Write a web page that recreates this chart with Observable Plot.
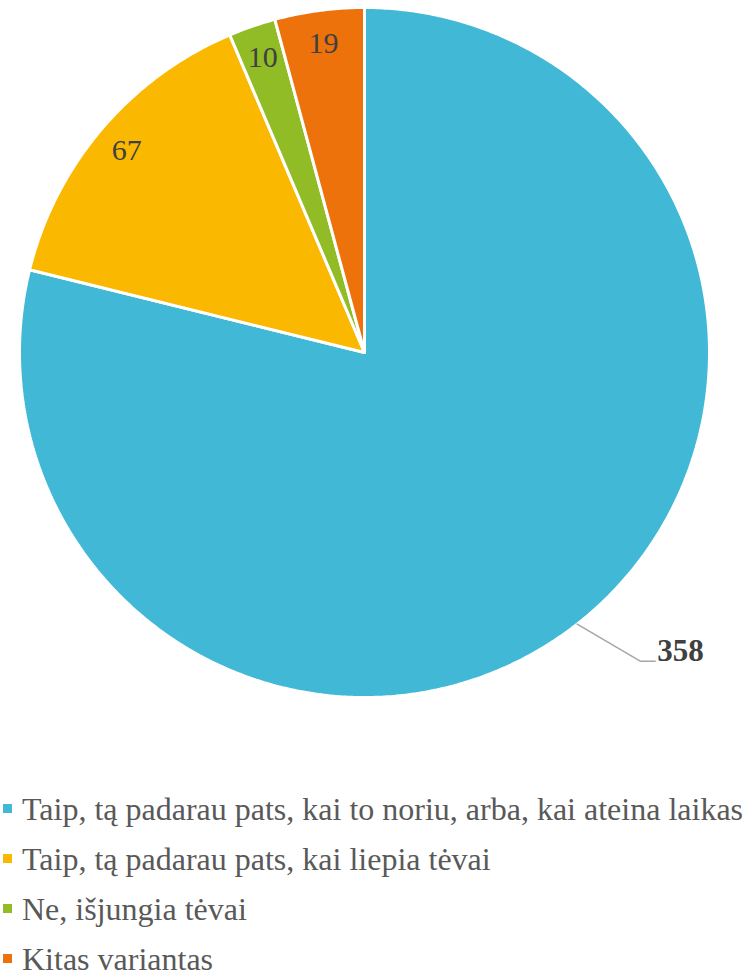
<!DOCTYPE html>
<html>
<head>
<meta charset="utf-8">
<script src="https://cdn.jsdelivr.net/npm/d3@7"></script>
<script src="https://cdn.jsdelivr.net/npm/@observablehq/plot@0.6"></script>
<style>
  html, body { margin: 0; padding: 0; background: #fff; overflow: hidden; }
  #chart svg { display: block; }
  .legend { font-family: "Liberation Serif", "Times New Roman", serif; font-size: 32px; color: #595959; }
  .row { position: relative; height: 50px; line-height: 50px; white-space: nowrap; }
  .sw { position: absolute; left: 3px; top: 20px; width: 9px; height: 9px; }
  .lbl { position: absolute; left: 22px; top: 0; }
</style>
</head>
<body>
<div id="chart"></div>
<div class="legend" id="legend"></div>
<script>
const categories = [
  "Taip, tą padarau pats, kai to noriu, arba, kai ateina laikas",
  "Taip, tą padarau pats, kai liepia tėvai",
  "Ne, išjungia tėvai",
  "Kitas variantas"
];
const values = [358, 67, 10, 19];
const colors = ["#41B8D5", "#FBB800", "#92BC26", "#EE720B"];

const arcs = d3.pie().sort(null).value(d => d)(values);
const R = 1;
const slices = [];
arcs.forEach((a, i) => {
  slices.push({x: 0, y: 0, k: i});
  const n = Math.max(2, Math.ceil((a.endAngle - a.startAngle) / (Math.PI / 360)));
  for (let j = 0; j <= n; j++) {
    const t = a.startAngle + (a.endAngle - a.startAngle) * j / n;
    slices.push({x: Math.sin(t) * R, y: Math.cos(t) * R, k: i});
  }
  slices.push({x: 0, y: 0, k: i});
});

const labels = arcs.map((a, i) => {
  const m = (a.startAngle + a.endAngle) / 2;
  return {x: Math.sin(m) * 0.905, y: Math.cos(m) * 0.905, v: values[i], i};
});
// first (largest) slice labelled outside with a leader line
const m0 = (arcs[0].startAngle + arcs[0].endAngle) / 2;
const px = 1 / 345;
const edge = {x: Math.sin(m0) * R, y: Math.cos(m0) * R};
const elbow = {x: edge.x + 63 * px, y: edge.y - 37 * px};
const end = {x: elbow.x + 15 * px, y: elbow.y};
const leader = [edge, elbow, end];

const chart = Plot.plot({
  width: 746,
  height: 784,
  x: {domain: [-1, 1], range: [19, 709], axis: null},
  y: {domain: [-1, 1], range: [697, 7], axis: null},
  style: {fontFamily: '"Liberation Serif", "Times New Roman", serif', background: "#fff"},
  marks: [
    Plot.line(slices, {x: "x", y: "y", z: "k", fill: d => colors[d.k], stroke: "#fff", strokeWidth: 3, strokeLinejoin: "miter", curve: "linear"}),
    Plot.text(labels.filter(d => d.i > 0), {x: "x", y: "y", text: d => String(d.v), fill: "#404040", fontSize: 30}),
    Plot.line(leader, {x: "x", y: "y", stroke: "#A6A6A6", strokeWidth: 1.5}),
    Plot.text([end], {x: "x", y: "y", text: () => String(values[0]), textAnchor: "start", dx: 2, dy: -10, fill: "#404040", fontSize: 31, fontWeight: "bold"})
  ]
});
document.getElementById("chart").appendChild(chart);

const leg = document.getElementById("legend");
categories.forEach((c, i) => {
  const row = document.createElement("div");
  row.className = "row";
  const sw = document.createElement("span");
  sw.className = "sw";
  sw.style.background = colors[i];
  const t = document.createElement("span");
  t.className = "lbl";
  t.textContent = c;
  row.appendChild(sw);
  row.appendChild(t);
  leg.appendChild(row);
});
</script>
</body>
</html>
